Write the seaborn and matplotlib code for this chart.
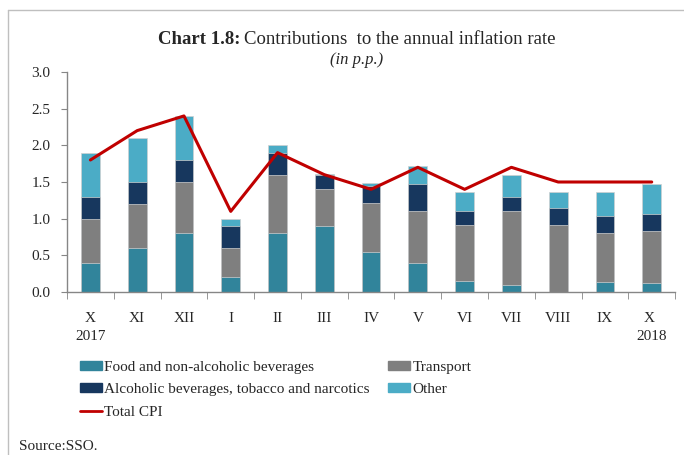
import numpy as np
import pandas as pd
import matplotlib
matplotlib.use("Agg")
import matplotlib.pyplot as plt
import seaborn as sns
from matplotlib.lines import Line2D
from matplotlib.patches import Patch

# Data (p.p. contributions)
months = ["X", "XI", "XII", "I", "II", "III", "IV", "V", "VI", "VII", "VIII", "IX", "X "]
food = [0.40, 0.60, 0.80, 0.20, 0.80, 0.90, 0.55, 0.39, 0.15, 0.10, 0.00, 0.14, 0.12]
transport = [0.60, 0.60, 0.70, 0.40, 0.80, 0.50, 0.66, 0.71, 0.76, 1.00, 0.92, 0.67, 0.71]
alcohol = [0.30, 0.30, 0.30, 0.30, 0.30, 0.20, 0.23, 0.37, 0.19, 0.19, 0.22, 0.23, 0.23]
other = [0.60, 0.60, 0.60, 0.10, 0.10, 0.01, 0.04, 0.25, 0.27, 0.31, 0.23, 0.33, 0.41]
cpi = [1.8, 2.2, 2.4, 1.1, 1.9, 1.6, 1.4, 1.7, 1.4, 1.7, 1.5, 1.5, 1.5]

labels = ["Food and non-alcoholic beverages", "Transport",
          "Alcoholic beverages, tobacco and narcotics", "Other"]
colors = ["#31849B", "#7F7F7F", "#17375E", "#4BACC6"]
cpi_color = "#C00000"

sns.set_style("white")
plt.rcParams["font.family"] = ["Liberation Serif", "DejaVu Serif"]
FS = 11

df = pd.DataFrame({"month": months, "food": food, "transport": transport,
                   "alcohol": alcohol, "other": other})
layers = ["food", "transport", "alcohol", "other"]
cum = df[layers].cumsum(axis=1)

fig = plt.figure(figsize=(6.84, 4.55), dpi=100)
ax = fig.add_axes([0.098, 0.358, 0.889, 0.484])

# stacked bars: draw cumulative totals from the top layer down
for layer, color in reversed(list(zip(layers, colors))):
    sns.barplot(x=df["month"], y=cum[layer], color=color, width=0.4,
                edgecolor="#d0d0d0", linewidth=0.5, saturation=1, ax=ax)

sns.lineplot(x=np.arange(len(months)), y=cpi, color=cpi_color, linewidth=2.2, ax=ax)

ax.set_xlim(-0.5, len(months) - 0.5)
ax.set_ylim(0, 3.0)
ax.set_yticks(np.arange(0, 3.01, 0.5))
ax.set_yticklabels([f"{v:.1f}" for v in np.arange(0, 3.01, 0.5)])
ax.set_xlabel("")
ax.set_ylabel("")

for s in ["top", "right"]:
    ax.spines[s].set_visible(False)
for s in ["left", "bottom"]:
    ax.spines[s].set_color("#868686")
    ax.spines[s].set_linewidth(1.0)

ax.set_xticks(np.arange(-0.5, len(months), 1.0), minor=True)
ax.tick_params(axis="x", which="major", length=0, labelsize=FS, pad=14)
ax.tick_params(axis="x", which="minor", length=5, color="#868686", direction="out")
ax.tick_params(axis="y", length=4, color="#868686", direction="out", labelsize=FS, pad=8)
ax.xaxis.set_ticks_position("bottom")
ax.yaxis.set_ticks_position("left")

ax.text(0, -0.17, "2017", transform=ax.get_xaxis_transform(), ha="center", va="top", fontsize=FS)
ax.text(12, -0.17, "2018", transform=ax.get_xaxis_transform(), ha="center", va="top", fontsize=FS)

# title: bold lead-in followed by regular text, centred as a whole
ty = 0.903
t1 = fig.text(0, ty, "Chart 1.8:", fontsize=13.5, fontweight="bold", ha="left", va="baseline")
t2 = fig.text(0, ty, "Contributions  to the annual inflation rate", fontsize=13.5,
              ha="left", va="baseline")
r = fig.canvas.get_renderer()
w1 = t1.get_window_extent(r).width / fig.bbox.width
w2 = t2.get_window_extent(r).width / fig.bbox.width
gap = 4 / fig.bbox.width
x0 = 0.522 - (w1 + gap + w2) / 2
t1.set_x(x0)
t2.set_x(x0 + w1 + gap)
fig.text(0.522, 0.868, "(in p.p.)", fontsize=12, style="italic", ha="center", va="center")

handles = [Patch(color=colors[0]), Patch(color=colors[2]),
           Line2D([0], [0], color=cpi_color, linewidth=2),
           Patch(color=colors[1]), Patch(color=colors[3])]
names = [labels[0], labels[2], "Total CPI", labels[1], labels[3]]
fig.legend(handles, names, loc="upper left", bbox_to_anchor=(0.117, 0.207),
           ncol=2, frameon=False, fontsize=FS, handlelength=1.45, handleheight=0.55,
           handletextpad=0.15, columnspacing=1.2, labelspacing=0.62, borderaxespad=0,
           borderpad=0)

fig.text(0.028, 0.018, "Source:SSO.", fontsize=FS, ha="left", va="center")

# chart frame
fig.add_artist(Line2D([0.012, 0.012], [0.0, 0.978], color="#bfbfbf", linewidth=1.0,
                      transform=fig.transFigure))
fig.add_artist(Line2D([0.012, 1.0], [0.978, 0.978], color="#bfbfbf", linewidth=1.0,
                      transform=fig.transFigure))

fig.savefig("out.png", dpi=100)
